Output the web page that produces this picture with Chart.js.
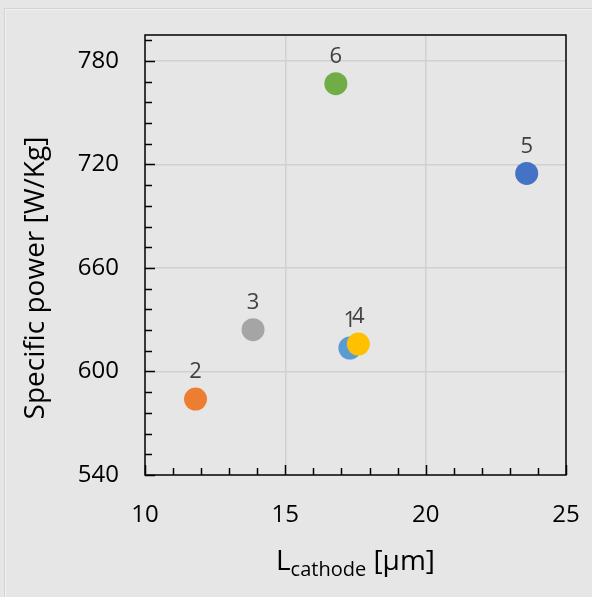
<!DOCTYPE html>
<html>
<head>
<meta charset="utf-8">
<script src="https://cdn.jsdelivr.net/npm/chart.js@4.4.0/dist/chart.umd.min.js"></script>
<style>
  html, body { margin: 0; padding: 0; background: #e6e6e6; }
  #wrap { position: relative; width: 592px; height: 597px; overflow: hidden; }
  #frame { position: absolute; left: 4px; top: 8px; width: 600px; height: 600px; border: 1px solid #d3d3d3; box-shadow: inset 1px 1px 0 #f2f2f2; }
  canvas { position: absolute; left: 0; top: 0; }
</style>
</head>
<body>
<div id="wrap">
  <div id="frame"></div>
  <canvas id="chart" width="592" height="597"></canvas>
</div>
<script>
// ---- data ----
const pointLabels = ["1", "2", "3", "4", "5", "6"];
const cathodeLength = [17.3, 11.8, 13.85, 17.6, 23.6, 16.8];   // µm
const specificPower = [613.6, 584, 624.2, 615.9, 714.8, 766.8]; // W/Kg
const pointColors = ["#5B9BD5", "#ED7D31", "#A5A5A5", "#FFC000", "#4472C4", "#70AD47"];
const xTicks = [10, 15, 20, 25];
const yTicks = [540, 600, 660, 720, 780];
const xMinorStep = 1;
const yMinorStep = 12;

const FONT = "'Open Sans', 'Noto Sans', sans-serif";

// --- border, inside tick marks, point numbers, x title ---
const decorPlugin = {
  id: "decor",
  afterDatasetsDraw(chart) {
    const { ctx, chartArea: a, scales } = chart;
    const xs = scales.x, ys = scales.y;
    ctx.save();
    ctx.strokeStyle = "#000";
    ctx.lineWidth = 1.5;

    // minor + major ticks, pointing inward
    for (let v = ys.min; v <= ys.max + 0.001; v += yMinorStep) {
      const y = Math.round(ys.getPixelForValue(v)) + 0.5;
      const len = yTicks.includes(v) ? 10 : 7;
      ctx.beginPath();
      ctx.moveTo(a.left, y);
      ctx.lineTo(a.left + len, y);
      ctx.stroke();
    }
    for (let v = xs.min; v <= xs.max + 0.001; v += xMinorStep) {
      const x = Math.round(xs.getPixelForValue(v)) + 0.5;
      const len = xTicks.includes(v) ? 10 : 7;
      ctx.beginPath();
      ctx.moveTo(x, a.bottom);
      ctx.lineTo(x, a.bottom - len);
      ctx.stroke();
    }
    ctx.strokeRect(a.left, a.top, a.right - a.left, a.bottom - a.top);

    // numbers above the points
    ctx.fillStyle = "#404040";
    ctx.font = "22px " + FONT;
    ctx.textAlign = "center";
    ctx.textBaseline = "middle";
    const meta = chart.getDatasetMeta(0);
    meta.data.forEach((pt, i) => {
      ctx.fillText(pointLabels[i], pt.x, pt.y - 27);
    });

    // x axis title with subscript
    const big = "28px " + FONT, small = "20px " + FONT;
    const parts = [["L", big, 0], ["cathode", small, 6], [" [\u03bcm]", big, 0]];
    let total = 0;
    parts.forEach(p => { ctx.font = p[1]; total += ctx.measureText(p[0]).width; });
    let x = (a.left + a.right) / 2 - total / 2;
    const base = 570;
    ctx.fillStyle = "#000";
    ctx.textAlign = "left";
    ctx.textBaseline = "alphabetic";
    parts.forEach(p => {
      ctx.font = p[1];
      ctx.fillText(p[0], x, base + p[2]);
      x += ctx.measureText(p[0]).width;
    });

    // y axis title
    ctx.save();
    ctx.translate(36, 278);
    ctx.rotate(-Math.PI / 2);
    ctx.font = "28px " + FONT;
    ctx.textAlign = "center";
    ctx.textBaseline = "middle";
    ctx.fillText("Specific power [W/Kg]", 0, 0);
    ctx.restore();

    ctx.restore();
  }
};

new Chart(document.getElementById("chart"), {
  type: "scatter",
  data: {
    datasets: [{
      data: cathodeLength.map((x, i) => ({ x: x, y: specificPower[i] })),
      backgroundColor: pointColors,
      borderWidth: 0,
      pointRadius: 11.5,
      pointHoverRadius: 11.5
    }]
  },
  options: {
    responsive: false,
    animation: false,
    events: [],
    layout: { padding: { top: 35, right: 26, left: 0, bottom: 0 } },
    plugins: { legend: { display: false }, tooltip: { enabled: false } },
    scales: {
      x: {
        type: "linear",
        min: 10,
        max: 25,
        afterBuildTicks: s => { s.ticks = xTicks.map(v => ({ value: v })); },
        afterFit: s => { s.height = 122; s.paddingLeft = 0; s.paddingRight = 0; },
        grid: {
          drawTicks: false,
          color: c => (c.tick && (c.tick.value === 15 || c.tick.value === 20)) ? "#d0d0d0" : "rgba(0,0,0,0)",
          lineWidth: 1.5
        },
        border: { display: false },
        ticks: { color: "#000", font: { family: FONT, size: 24 }, padding: 26, maxRotation: 0 }
      },
      y: {
        type: "linear",
        min: 540,
        max: 795,
        afterBuildTicks: s => { s.ticks = yTicks.map(v => ({ value: v })); },
        afterFit: s => { s.width = 145; s.paddingTop = 0; s.paddingBottom = 0; },
        grid: {
          drawTicks: false,
          color: c => (c.tick && c.tick.value > 540) ? "#d0d0d0" : "rgba(0,0,0,0)",
          lineWidth: 1.5
        },
        border: { display: false },
        ticks: { color: "#000", font: { family: FONT, size: 24 }, padding: 26 }
      }
    }
  },
  plugins: [decorPlugin]
});
</script>
</body>
</html>
